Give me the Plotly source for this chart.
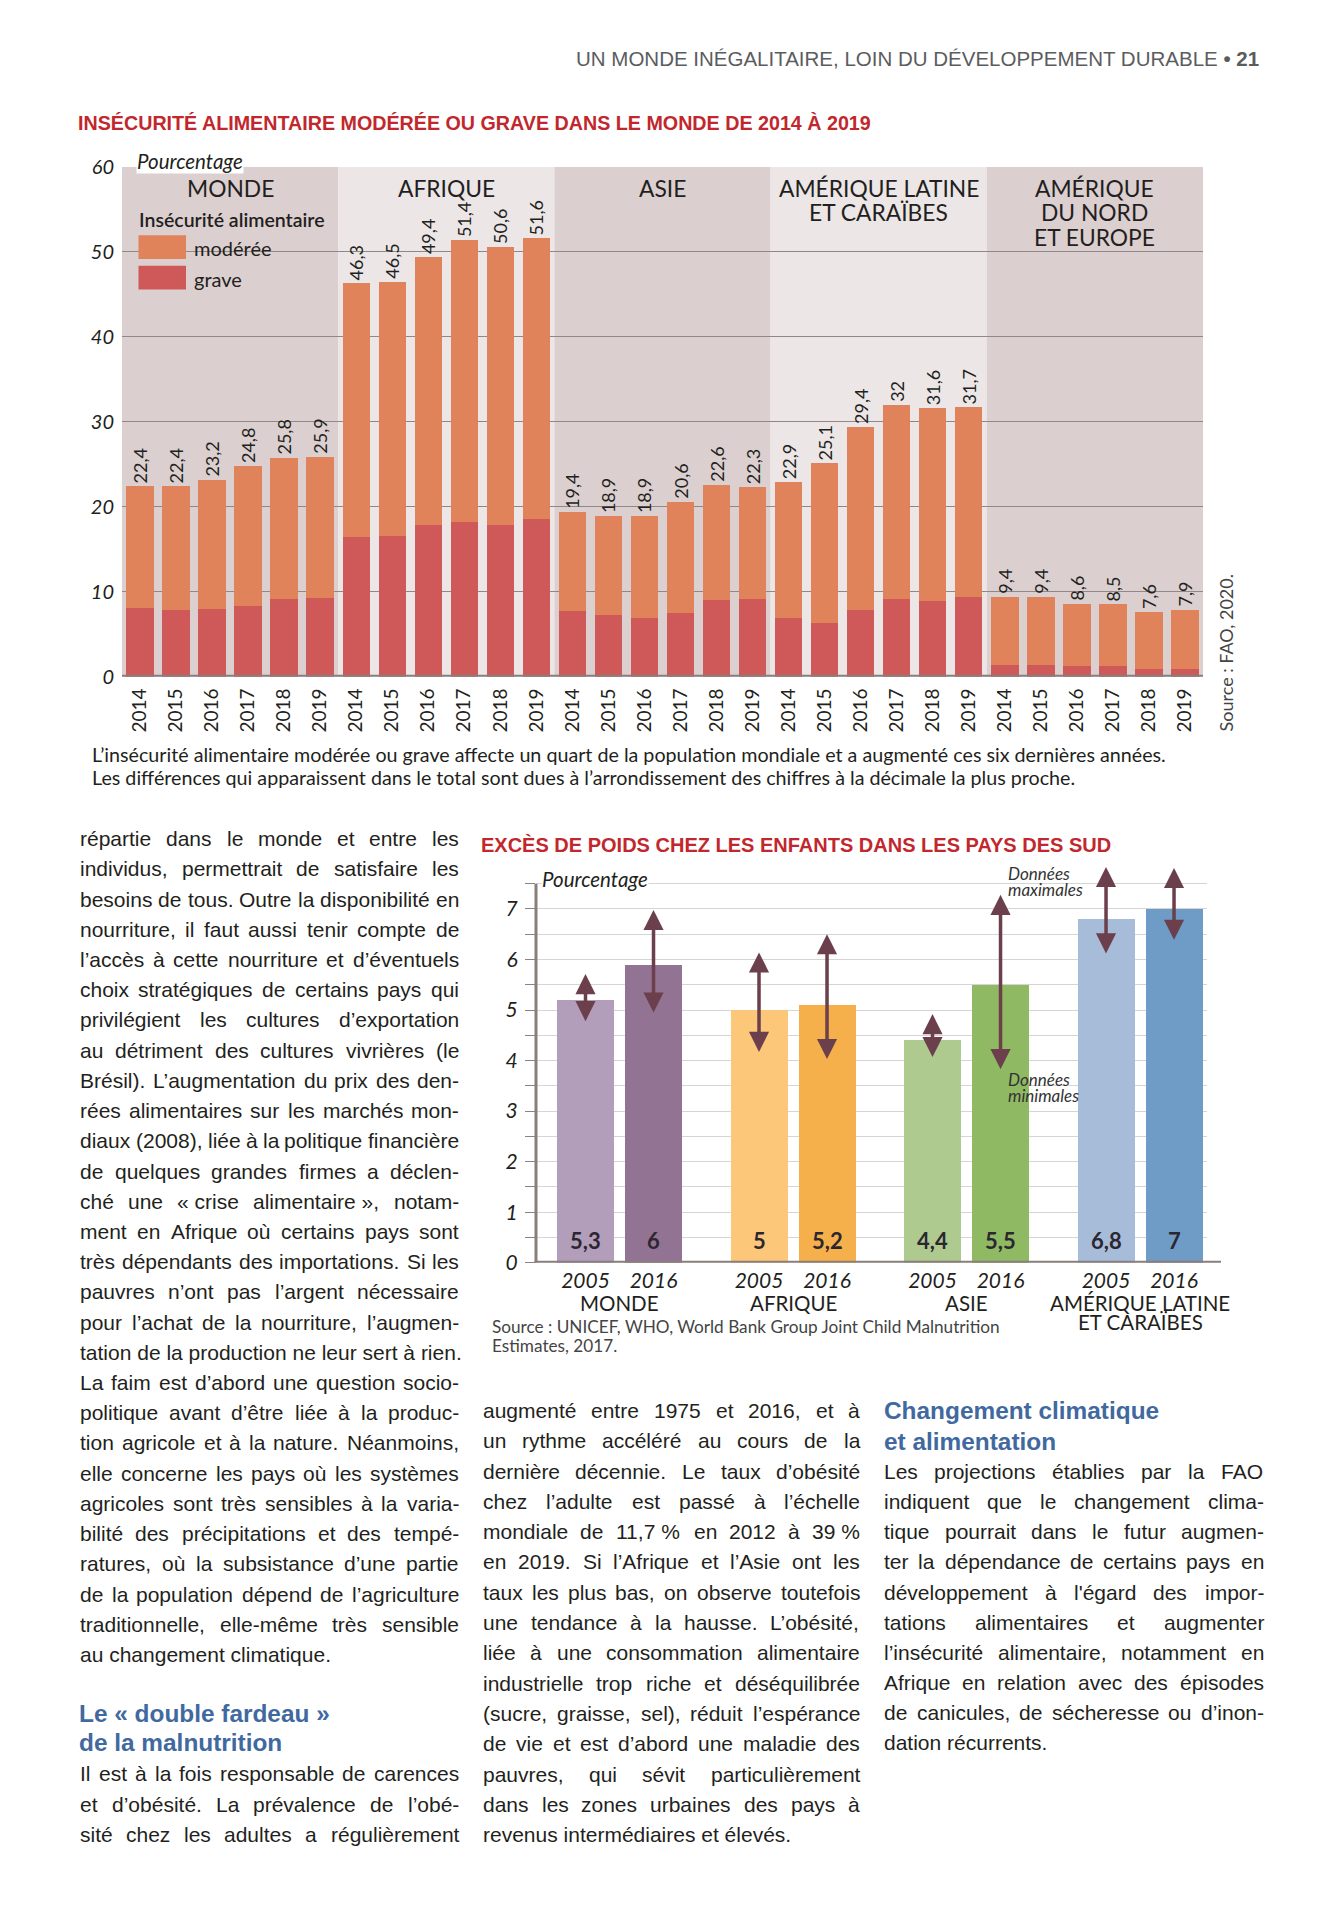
import unicodedata
import plotly.graph_objects as go

# ---------------- DATA ----------------
# Chart 1 : insécurité alimentaire (pourcentage)
years1 = ["2014", "2015", "2016", "2017", "2018", "2019"]
regions1 = ["MONDE", "AFRIQUE", "ASIE", "AMÉRIQUE LATINE\nET CARAÏBES", "AMÉRIQUE\nDU NORD\nET EUROPE"]

total_monde = [22.4, 22.4, 23.2, 24.8, 25.8, 25.9]
total_afrique = [46.3, 46.5, 49.4, 51.4, 50.6, 51.6]
total_asie = [19.4, 18.9, 18.9, 20.6, 22.6, 22.3]
total_amlat = [22.9, 25.1, 29.4, 32.0, 31.6, 31.7]
total_amnord = [9.4, 9.4, 8.6, 8.5, 7.6, 7.9]

grave_monde = [8.1, 7.8, 8.0, 8.3, 9.2, 9.3]
grave_afrique = [16.5, 16.6, 17.9, 18.2, 17.9, 18.6]
grave_asie = [7.7, 7.3, 6.9, 7.5, 9.0, 9.1]
grave_amlat = [6.9, 6.3, 7.9, 9.1, 8.9, 9.4]
grave_amnord = [1.4, 1.4, 1.2, 1.2, 0.9, 0.9]

moderee_monde = [14.3, 14.6, 15.2, 16.5, 16.6, 16.6]
moderee_afrique = [29.8, 29.9, 31.5, 33.2, 32.7, 33.0]
moderee_asie = [11.7, 11.6, 12.0, 13.1, 13.6, 13.2]
moderee_amlat = [16.0, 18.8, 21.5, 22.9, 22.7, 22.3]
moderee_amnord = [8.0, 8.0, 7.4, 7.3, 6.7, 7.0]

y1_ticks = [0, 10, 20, 30, 40, 50, 60]

# Chart 2 : excès de poids chez les enfants (pourcentage)
regions2 = ["MONDE", "AFRIQUE", "ASIE", "AMÉRIQUE LATINE\nET CARAÏBES"]
years2 = ["2005", "2016"]
val_2005 = [5.2, 5.0, 4.4, 6.8]
val_2016 = [5.9, 5.1, 5.5, 7.0]
lab_2005 = ["5,3", "5", "4,4", "6,8"]
lab_2016 = ["6", "5,2", "5,5", "7"]
min_2005 = [4.75, 4.14, 4.04, 6.09]
max_2005 = [5.71, 6.14, 4.92, 7.83]
min_2016 = [4.92, 4.00, 3.80, 6.36]
max_2016 = [6.98, 6.50, 7.28, 7.81]
col_2005 = ["#b29dba", "#fcc778", "#afca8e", "#a7bcd8"]
col_2016 = ["#937394", "#f6b04b", "#8fba63", "#6f9bc7"]
y2_ticks = [0, 0.5, 1, 1.5, 2, 2.5, 3, 3.5, 4, 4.5, 5, 5.5, 6, 6.5, 7, 7.5]

# Body text
NB = "\u00a0"
col_left = [
    "répartie dans le monde et entre les",
    "individus, permettrait de satisfaire les",
    "besoins de tous. Outre la disponibilité en",
    "nourriture, il faut aussi tenir compte de",
    "l’accès à cette nourriture et d’éventuels",
    "choix stratégiques de certains pays qui",
    "privilégient les cultures d’exportation",
    "au détriment des cultures vivrières (le",
    "Brésil). L’augmentation du prix des den-",
    "rées alimentaires sur les marchés mon-",
    "diaux (2008), liée à la politique financière",
    "de quelques grandes firmes a déclen-",
    "ché une «" + NB + "crise alimentaire" + NB + "», notam-",
    "ment en Afrique où certains pays sont",
    "très dépendants des importations. Si les",
    "pauvres n’ont pas l’argent nécessaire",
    "pour l’achat de la nourriture, l’augmen-",
    "tation de la production ne leur sert à rien.",
    "La faim est d’abord une question socio-",
    "politique avant d’être liée à la produc-",
    "tion agricole et à la nature. Néanmoins,",
    "elle concerne les pays où les systèmes",
    "agricoles sont très sensibles à la varia-",
    "bilité des précipitations et des tempé-",
    "ratures, où la subsistance d’une partie",
    "de la population dépend de l’agriculture",
    "traditionnelle, elle-même très sensible",
    "au changement climatique.",
]
left_par_ends = [17, 27]
head_left = ["Le «" + NB + "double fardeau" + NB + "»", "de la malnutrition"]
col_left2 = [
    "Il est à la fois responsable de carences",
    "et d’obésité. La prévalence de l’obé-",
    "sité chez les adultes a régulièrement",
]
col_mid = [
    "augmenté entre 1975 et 2016, et à",
    "un rythme accéléré au cours de la",
    "dernière décennie. Le taux d’obésité",
    "chez l’adulte est passé à l’échelle",
    "mondiale de 11,7" + NB + "% en 2012 à 39" + NB + "%",
    "en 2019. Si l’Afrique et l’Asie ont les",
    "taux les plus bas, on observe toutefois",
    "une tendance à la hausse. L’obésité,",
    "liée à une consommation alimentaire",
    "industrielle trop riche et déséquilibrée",
    "(sucre, graisse, sel), réduit l’espérance",
    "de vie et est d’abord une maladie des",
    "pauvres, qui sévit particulièrement",
    "dans les zones urbaines des pays à",
    "revenus intermédiaires et élevés.",
]
mid_par_ends = [14]
head_right = ["Changement climatique", "et alimentation"]
col_right = [
    "Les projections établies par la FAO",
    "indiquent que le changement clima-",
    "tique pourrait dans le futur augmen-",
    "ter la dépendance de certains pays en",
    "développement à l'égard des impor-",
    "tations alimentaires et augmenter",
    "l’insécurité alimentaire, notamment en",
    "Afrique en relation avec des épisodes",
    "de canicules, de sécheresse ou d’inon-",
    "dation récurrents.",
]
right_par_ends = [9]

# ---------------- STYLE / LAYOUT HELPERS ----------------
W, H = 1339, 1930
def fx(px):
    return px / W
def fy(py):
    return 1 - py / H

F_CH = "Lato, 'Noto Sans', sans-serif"
F_BODY = "'Liberation Sans', Arial, sans-serif"
DARK = "#231f20"
RED = "#c1272d"
BLUE = "#41699f"
C_MOD = "#e0825a"
C_GRAVE = "#cf5959"
PANEL_DARK = "#dccfd0"
PANEL_LIGHT = "#ece6e7"
BASE = "#8a7e7b"
ARROW = "#6b3f4b"

def fmt(v):
    s = ("%.1f" % v).rstrip("0").rstrip(".")
    return s.replace(".", ",")

fig = go.Figure()
ann = []
shapes = []

def A(**kw):
    d = dict(showarrow=False, xanchor="center", yanchor="middle", xref="paper", yref="paper")
    d.update(kw)
    ann.append(d)

# ---------------- CHART 1 ----------------
totals = total_monde + total_afrique + total_asie + total_amlat + total_amnord
graves = grave_monde + grave_afrique + grave_asie + grave_amlat + grave_amnord
moderees = moderee_monde + moderee_afrique + moderee_asie + moderee_amlat + moderee_amnord
x1 = list(range(len(totals)))
year_labels = years1 * len(regions1)

fig.add_trace(go.Bar(x=x1, y=graves, width=0.76, marker=dict(color=C_GRAVE, line=dict(width=0)),
                     xaxis="x", yaxis="y", showlegend=False, hoverinfo="skip"))
fig.add_trace(go.Bar(x=x1, y=moderees, width=0.76, marker=dict(color=C_MOD, line=dict(width=0)),
                     text=[fmt(t) for t in totals], textposition="outside", textangle=-90,
                     textfont=dict(family=F_CH, size=18, color=DARK), cliponaxis=False,
                     constraintext="none", xaxis="x", yaxis="y", showlegend=False, hoverinfo="skip"))

n = len(years1)
for g, name in enumerate(regions1):
    shapes.append(dict(type="rect", xref="x", yref="y", x0=g * n - 0.5, x1=g * n + n - 0.5,
                       y0=0, y1=60, fillcolor=PANEL_DARK if g % 2 == 0 else PANEL_LIGHT,
                       line=dict(width=0), layer="below"))
    for j, line in enumerate(name.split("\n")):
        A(x=g * n + (n - 1) / 2, xref="x", y=fy(177 + 25 * j), text=line,
          font=dict(family=F_CH, size=22.8, color=DARK))

# baseline chart 1
shapes.append(dict(type="line", xref="x domain", yref="y", x0=0, x1=1, y0=0, y1=0,
                   line=dict(color=BASE, width=4), layer="above"))

# legend
shapes.append(dict(type="rect", xref="paper", yref="paper", x0=fx(138.5), x1=fx(186), y0=fy(249), y1=fy(225),
                   fillcolor=C_MOD, line=dict(width=0)))
shapes.append(dict(type="rect", xref="paper", yref="paper", x0=fx(138.5), x1=fx(186), y0=fy(280), y1=fy(256),
                   fillcolor=C_GRAVE, line=dict(width=0)))
A(x=fx(137), y=fy(209), xanchor="left", text="Insécurité alimentaire",
  font=dict(family=F_CH, size=19.5, color=DARK, weight=600))
A(x=fx(192), y=fy(238), xanchor="left", text="modérée", font=dict(family=F_CH, size=20, color=DARK))
A(x=fx(192), y=fy(269), xanchor="left", text="grave", font=dict(family=F_CH, size=20, color=DARK))

A(x=fx(136), y=fy(150), xanchor="left", text="Pourcentage", bgcolor="white", borderpad=0,
  font=dict(family=F_CH, size=20.5, color=DARK, style="italic"))

A(x=fx(1226), y=fy(730), yanchor="bottom", textangle=-90, text="Source : FAO, 2020.",
  font=dict(family=F_CH, size=18, color="#444"))

cap1 = ["L’insécurité alimentaire modérée ou grave affecte un quart de la population mondiale et a augmenté ces six dernières années.",
        "Les différences qui apparaissent dans le total sont dues à l’arrondissement des chiffres à la décimale la plus proche."]
for j, line in enumerate(cap1):
    A(x=fx(90), y=fy(751 + 23.5 * j), xanchor="left", text=line,
      font=dict(family=F_CH, size=19.7, color=DARK))

# ---------------- CHART 2 ----------------
half = 0.196
x_2005 = [g - half for g in range(len(regions2))]
x_2016 = [g + half for g in range(len(regions2))]

fig.add_trace(go.Bar(x=x_2005, y=val_2005, width=0.3285, marker=dict(color=col_2005, line=dict(width=0)),
                     xaxis="x2", yaxis="y2", showlegend=False, hoverinfo="skip"))
fig.add_trace(go.Bar(x=x_2016, y=val_2016, width=0.3285, marker=dict(color=col_2016, line=dict(width=0)),
                     xaxis="x2", yaxis="y2", showlegend=False, hoverinfo="skip"))

for xs, labs, lo, hi in [(x_2005, lab_2005, min_2005, max_2005), (x_2016, lab_2016, min_2016, max_2016)]:
    for xv, lab, a, b in zip(xs, labs, lo, hi):
        A(x=xv, y=0, xref="x2", yref="y2", yanchor="bottom", yshift=7, text=lab,
          font=dict(family=F_CH, size=22, color="#2b2630", weight="bold"))
        ann.append(dict(x=xv, y=b, ax=xv, ay=a, xref="x2", yref="y2", axref="x2", ayref="y2",
                        text="", showarrow=True, arrowhead=2, startarrowhead=2, arrowside="end+start",
                        arrowsize=1.15, startarrowsize=1.15, arrowwidth=3.5, arrowcolor=ARROW,
                        standoff=0, startstandoff=0))

for g, name in enumerate(regions2):
    for j, line in enumerate(name.split("\n")):
        A(x=g, xref="x2", y=fy(1306 + 19.5 * j), text=line,
          font=dict(family=F_CH, size=20.5, color=DARK))

shapes.append(dict(type="line", xref="x2 domain", yref="y2", x0=0, x1=0, y0=0, y1=7.5,
                   line=dict(color=BASE, width=3), layer="above"))
shapes.append(dict(type="line", xref="paper", yref="y2", x0=fx(534.5), x1=fx(1221), y0=0, y1=0,
                   line=dict(color=BASE, width=4), layer="above"))

A(x=fx(541), y=fy(877), xanchor="left", text="Pourcentage", bgcolor="white", borderpad=0,
  font=dict(family=F_CH, size=20.5, color=DARK, style="italic"))
for j, line in enumerate(["Données", "maximales"]):
    A(x=fx(1006), y=fy(871.5 + 16.5 * j), xanchor="left", text=line,
      font=dict(family=F_CH, size=17, color="#333", style="italic"))
for j, line in enumerate(["Données", "minimales"]):
    A(x=fx(1006), y=fy(1080 + 16.5 * j), xanchor="left", text=line,
      font=dict(family=F_CH, size=17, color="#333", style="italic"))
for j, line in enumerate(["Source : UNICEF, WHO, World Bank Group Joint Child Malnutrition", "Estimates, 2017."]):
    A(x=fx(490), y=fy(1330 + 19 * j), xanchor="left", text=line,
      font=dict(family=F_CH, size=17.2, color="#444"))

# ---------------- PAGE TEXT ----------------
A(x=fx(1261), y=fy(46), xanchor="right",
  text="UN MONDE INÉGALITAIRE, LOIN DU DÉVELOPPEMENT DURABLE <b>• 21</b>",
  font=dict(family=F_BODY, size=20.5, color="#5b5c5e"))
A(x=fx(76), y=fy(111), xanchor="left",
  text="<b>INSÉCURITÉ ALIMENTAIRE MODÉRÉE OU GRAVE DANS LE MONDE DE 2014 À 2019</b>",
  font=dict(family=F_BODY, size=19.7, color=RED))
A(x=fx(479), y=fy(842), xanchor="left",
  text="<b>EXCÈS DE POIDS CHEZ LES ENFANTS DANS LES PAYS DES SUD</b>",
  font=dict(family=F_BODY, size=20, color=RED))

# Arial / Liberation Sans advance widths (per 1000 em) for justification
AW = {" ": 278, NB: 278, "!": 278, "'": 191, "(": 333, ")": 333, ",": 278, "-": 333, ".": 278,
      ":": 278, ";": 278, "%": 889, "’": 222, "«": 556, "»": 556, "?": 556,
      "A": 667, "B": 667, "C": 722, "D": 722, "E": 667, "F": 611, "G": 778, "H": 722, "I": 278,
      "J": 500, "K": 667, "L": 556, "M": 833, "N": 722, "O": 778, "P": 667, "Q": 778, "R": 722,
      "S": 667, "T": 611, "U": 722, "V": 667, "W": 944, "X": 667, "Y": 667, "Z": 611,
      "a": 556, "b": 556, "c": 500, "d": 556, "e": 556, "f": 278, "g": 556, "h": 556, "i": 222,
      "j": 222, "k": 500, "l": 222, "m": 833, "n": 556, "o": 556, "p": 556, "q": 556, "r": 333,
      "s": 500, "t": 278, "u": 556, "v": 500, "w": 722, "x": 500, "y": 500, "z": 500,
      "î": 278, "ï": 278}
for d in "0123456789":
    AW[d] = 556

def tw(s, size):
    tot = 0
    for c in s:
        if c in AW:
            tot += AW[c]
        else:
            b = unicodedata.normalize("NFD", c)[0]
            tot += AW.get(b, 556)
    return tot * size / 1000.0

BODY_SIZE = 21

def justified(lines, x0, width, y0, step, ends):
    for i, line in enumerate(lines):
        y = fy(y0 + step * i)
        words = line.split(" ")
        if i in ends or len(words) < 2:
            A(x=fx(x0), y=y, xanchor="left", text=line,
              font=dict(family=F_BODY, size=BODY_SIZE, color=DARK))
            continue
        ws = [tw(w, BODY_SIZE) for w in words]
        gap = (width - sum(ws)) / (len(words) - 1)
        x = x0
        for w, wl in zip(words, ws):
            A(x=fx(x), y=y, xanchor="left", text=w, font=dict(family=F_BODY, size=BODY_SIZE, color=DARK))
            x += wl + gap

def heading(lines, x0, y0, step):
    for i, line in enumerate(lines):
        A(x=fx(x0), y=fy(y0 + step * i), xanchor="left", text="<b>%s</b>" % line,
          font=dict(family=F_BODY, size=24.4, color=BLUE))

justified(col_left, 78, 379, 836, 30.6, left_par_ends)
heading(head_left, 77, 1722, 29.5)
justified(col_left2, 78, 379, 1783, 30.6, [])
justified(col_mid, 481, 377, 1415, 30.7, mid_par_ends)
heading(head_right, 882, 1415, 31.5)
justified(col_right, 882, 380, 1477, 30.5, right_par_ends)

# ---------------- LAYOUT ----------------
fig.update_layout(
    width=W, height=H, margin=dict(l=0, r=0, t=0, b=0),
    paper_bgcolor="white", plot_bgcolor="rgba(0,0,0,0)",
    barmode="stack", showlegend=False,
    font=dict(family=F_CH, color=DARK),
    xaxis=dict(domain=[fx(122), fx(1203)], range=[-0.5, len(totals) - 0.5], anchor="y",
               tickmode="array", tickvals=x1, ticktext=year_labels, tickangle=-90,
               tickfont=dict(family=F_CH, size=19, color=DARK), ticks="", showgrid=False,
               zeroline=False, showline=False, ticklabelstandoff=7, fixedrange=True),
    yaxis=dict(domain=[fy(672), fy(156)], range=[0, 60], anchor="x",
               tickmode="array", tickvals=y1_ticks, ticktext=[str(v) for v in y1_ticks],
               tickfont=dict(family=F_CH, size=20, color=DARK, style="italic"),
               showgrid=True, gridcolor="#8f8788", gridwidth=1, zeroline=False, showline=False,
               ticks="", ticklabelstandoff=7, fixedrange=True),
    xaxis2=dict(domain=[fx(536), fx(1207)], range=[-0.4813, 3.386], anchor="y2",
                tickmode="array", tickvals=x_2005 + x_2016, ticktext=[years2[0]] * 4 + [years2[1]] * 4,
                tickfont=dict(family=F_CH, size=21, color=DARK, style="italic"), ticks="",
                showgrid=False, zeroline=False, showline=False, ticklabelstandoff=3, fixedrange=True),
    yaxis2=dict(domain=[fy(1265.5), fy(856)], range=[0, 8], anchor="x2",
                tickmode="array", tickvals=y2_ticks,
                ticktext=[("%d" % v) if float(v).is_integer() else "" for v in y2_ticks],
                tickfont=dict(family=F_CH, size=21, color=DARK, style="italic"),
                showgrid=True, gridcolor="#d6d4d4", gridwidth=1, zeroline=False, showline=False,
                ticks="outside", ticklen=10, tickcolor="#8c8283", tickwidth=1,
                ticklabelstandoff=3, fixedrange=True),
    annotations=ann, shapes=shapes,
)

fig.write_html("out.html", config={"displayModeBar": False, "staticPlot": True},
               post_script="document.body.style.margin='0';")
